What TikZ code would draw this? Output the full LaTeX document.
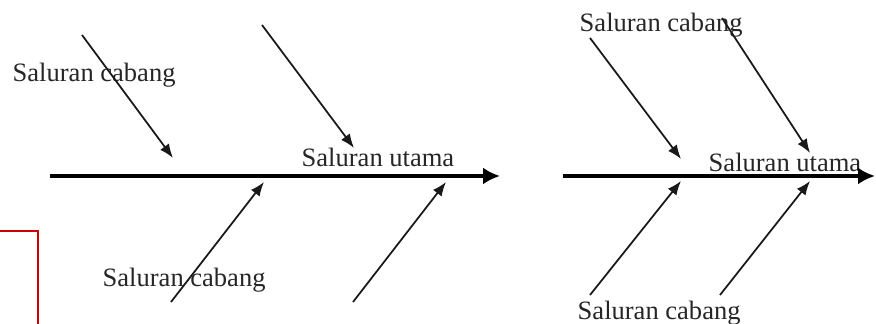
\documentclass[tikz,border=0pt]{standalone}
\usepackage{fontspec}
\setmainfont{Liberation Serif}
\usepackage{tikz}
\usetikzlibrary{arrows.meta, positioning}

\begin{document}
\begin{tikzpicture}[>=latex,
    cabang/.style={->, >={Latex[length=4pt,width=3.1pt]}, line width=0.5pt, black!90},
    utama/.style={->, >={Latex[length=4.8pt,width=4.8pt]}, line width=1.4pt},
    teks/.style={anchor=base west, inner sep=0pt, text=black!85, font=\fontsize{7.55}{9}\selectfont}]
    \useasboundingbox (0,0) rectangle (8.76,3.24);

    % Kotak merah di pojok kiri bawah
    \draw[red!80!black, line width=0.6pt] (0,0.93) -- (0.38,0.93) -- (0.38,0);

    % Gambar kiri: label
    \node[teks] (kiriAtas) at (0.12,2.42) {Saluran cabang};
    \node[teks] (kiriUtama) at (3.01,1.57) {Saluran utama};
    \node[teks] (kiriBawah) at (1.02,0.37) {Saluran cabang};

    % Gambar kiri: titik ujung panah
    \coordinate (kA0) at (0.50,1.48);  \coordinate (kA1) at (5.00,1.48);
    \coordinate (kUL0) at (0.82,2.89); \coordinate (kUL1) at (1.73,1.66);
    \coordinate (kUR0) at (2.62,2.99); \coordinate (kUR1) at (3.54,1.76);
    \coordinate (kLL0) at (1.71,0.22); \coordinate (kLL1) at (2.64,1.42);
    \coordinate (kLR0) at (3.53,0.22); \coordinate (kLR1) at (4.46,1.42);

    % Gambar kiri: saluran utama dan saluran cabang
    \draw[utama] (kA0) -- (kA1);
    \draw[cabang] (kUL0) -- (kUL1);
    \draw[cabang] (kUR0) -- (kUR1);
    \draw[cabang] (kLL0) -- (kLL1);
    \draw[cabang] (kLR0) -- (kLR1);

    % Gambar kanan: label
    \node[teks] (kananAtas) at (5.79,2.92) {Saluran cabang};
    \node[teks] (kananUtama) at (7.08,1.52) {Saluran utama};
    \node[teks] (kananBawah) at (5.77,0.04) {Saluran cabang};

    % Gambar kanan: titik ujung panah
    \coordinate (nA0) at (5.63,1.48);  \coordinate (nA1) at (8.75,1.48);
    \coordinate (nUL0) at (5.90,2.86); \coordinate (nUL1) at (6.81,1.65);
    \coordinate (nUR0) at (7.22,3.06); \coordinate (nUR1) at (8.10,1.71);
    \coordinate (nLL0) at (5.90,0.29); \coordinate (nLL1) at (6.81,1.43);
    \coordinate (nLR0) at (7.20,0.29); \coordinate (nLR1) at (8.10,1.43);

    % Gambar kanan: saluran utama dan saluran cabang
    \draw[utama] (nA0) -- (nA1);
    \draw[cabang] (nUL0) -- (nUL1);
    \draw[cabang] (nUR0) -- (nUR1);
    \draw[cabang] (nLL0) -- (nLL1);
    \draw[cabang] (nLR0) -- (nLR1);
\end{tikzpicture}
\end{document}
